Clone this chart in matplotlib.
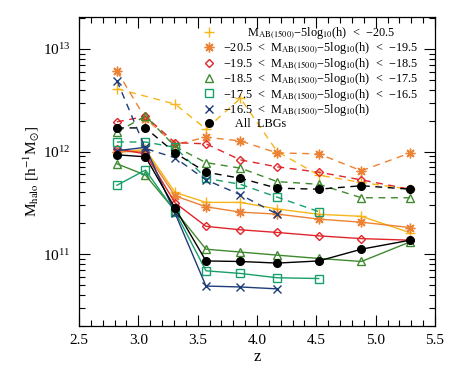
import matplotlib
matplotlib.use('Agg')
import matplotlib.pyplot as plt
from matplotlib.lines import Line2D
from matplotlib.ticker import MultipleLocator, LogLocator, NullFormatter

plt.rcParams['font.family'] = ['Liberation Serif', 'DejaVu Serif']
plt.rcParams['mathtext.fontset'] = 'stix'

z = [2.82, 3.06, 3.31, 3.57, 3.86, 4.17, 4.52, 4.88, 5.29]

# upper (dashed) set of curves
up_m205 = [4.1e12, None, 2.9e12, 1.66e12, 3.3e12, 1.0e12, 5.9e11, 5.0e11, 4.3e11]
up_m195 = [6.1e12, 2.1e12, 1.17e12, 1.38e12, 1.27e12, 9.7e11, 9.5e11, 6.5e11, 9.7e11]
up_m185 = [1.95e12, 2.2e12, 1.22e12, 1.19e12, 8.3e11, 7.1e11, 6.3e11, 5.3e11, 4.3e11]
up_m175 = [1.55e12, 2.22e12, 1.12e12, 7.8e11, 6.9e11, 5.1e11, 4.8e11, 3.55e11, 3.55e11]
up_m165 = [1.24e12, 1.24e12, 1.1e12, 5.5e11, 4.8e11, 3.6e11, 2.6e11]
up_faint = [4.9e12, 1.07e12, 8.7e11, 5.3e11, 3.8e11, 2.46e11]
up_all = [1.7e12, 1.7e12, 9.7e11, 6.3e11, 5.5e11, 4.4e11, 4.3e11, 4.65e11, 4.3e11]

# lower (solid) set of curves
lo_m205 = [9.8e11, 1.05e12, 4.0e11, 3.2e11, 3.2e11, 2.76e11, 2.45e11, 2.34e11, 1.62e11]
lo_m195 = [1.0e12, 1.0e12, 3.7e11, 2.9e11, 2.57e11, 2.46e11, 2.2e11, 2.05e11, 1.82e11]
lo_m185 = [1.06e12, 9.5e11, 3.16e11, 1.87e11, 1.73e11, 1.63e11, 1.51e11, 1.42e11, 1.37e11]
lo_m175 = [7.6e11, 5.9e11, 2.65e11, 1.12e11, 1.05e11, 9.8e10, 9.1e10, 8.5e10, 1.32e11]
lo_m165 = [4.7e11, 6.6e11, 2.6e11, 6.9e10, 6.5e10, 5.9e10, 5.8e10]
lo_faint = [1.02e12, 1.1e12, 2.5e11, 4.9e10, 4.8e10, 4.6e10]
lo_all = [9.3e11, 8.9e11, 2.8e11, 8.6e10, 8.5e10, 8.2e10, 8.6e10, 1.12e11, 1.37e11]

labels = ['        M$_{\\rm AB(1500)}$\u22125log$_{10}$(h)  <  \u221220.5',
          '\u221220.5  <  M$_{\\rm AB(1500)}$\u22125log$_{10}$(h)  <  \u221219.5',
          '\u221219.5  <  M$_{\\rm AB(1500)}$\u22125log$_{10}$(h)  <  \u221218.5',
          '\u221218.5  <  M$_{\\rm AB(1500)}$\u22125log$_{10}$(h)  <  \u221217.5',
          '\u221217.5  <  M$_{\\rm AB(1500)}$\u22125log$_{10}$(h)  <  \u221216.5',
          '\u221216.5  <  M$_{\\rm AB(1500)}$\u22125log$_{10}$(h)',
          '    All  LBGs']

colors = ['#f7b519', '#ec8233', '#e0262b', '#3f8a2f', '#17a06a', '#1e3c78', 'black']
markers = ['+', (8, 2, 0), 'D', '^', 's', 'x', 'o']
msizes = [7, 7, 3.8, 5.5, 5.5, 5.5, 5.5]
filled = [True, True, False, False, False, True, True]

upper = [up_m205, up_m195, up_m185, up_m175, up_m165, up_faint, up_all]
lower = [lo_m205, lo_m195, lo_m185, lo_m175, lo_m165, lo_faint, lo_all]

fig = plt.figure(figsize=(4.63, 3.76), dpi=100)
ax = fig.add_axes([0.1706, 0.133, 0.769, 0.822])

for i in range(7):
    ax.plot([zz for zz, v in zip(z, upper[i]) if v is not None],
            [v for v in upper[i] if v is not None],
            color=colors[i], lw=1.0, dashes=(5, 4),
            marker=markers[i], ms=msizes[i],
            mfc=colors[i] if filled[i] else 'none', mec=colors[i], mew=1.0)
    ax.plot(z[:len(lower[i])], lower[i], color=colors[i], lw=1.0, ls='-',
            marker=markers[i], ms=msizes[i],
            mfc=colors[i] if filled[i] else 'none', mec=colors[i], mew=1.0)

ax.set_yscale('log')
ax.set_xlim(2.5, 5.5)
ax.set_ylim(2e10, 2.05e13)
ax.xaxis.set_major_locator(MultipleLocator(0.5))
ax.xaxis.set_minor_locator(MultipleLocator(0.1))
ax.yaxis.set_minor_locator(LogLocator(base=10, subs=range(2, 10)))
ax.yaxis.set_minor_formatter(NullFormatter())
ax.tick_params(which='both', direction='in', top=True, right=True, labelsize=11)
ax.tick_params(which='major', length=8, width=0.8, pad=6)
ax.tick_params(which='minor', length=4, width=0.8)
for s in ax.spines.values():
    s.set_linewidth(0.9)

ax.set_xlabel('z', fontsize=12, labelpad=1)
ax.set_ylabel('M$_{\\rm halo}$ [h$^{-1}$M$_{\\odot}$]', fontsize=11, labelpad=1)

handles = [Line2D([], [], ls='none', marker=markers[i], ms=msizes[i], color=colors[i],
                  mfc=colors[i] if filled[i] else 'none', mec=colors[i], mew=1.0)
           for i in range(7)]
ax.legend(handles, labels, loc='upper left', bbox_to_anchor=(0.325, 1.0),
          frameon=False, fontsize=8.8, handlelength=0.9, handletextpad=0.7,
          labelspacing=0.0, borderpad=0.2)

fig.savefig('out.png', dpi=100)
